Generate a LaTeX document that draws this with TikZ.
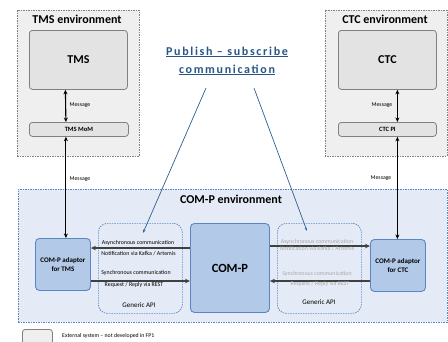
\documentclass[tikz,border=0pt]{standalone}
\usepackage{fontspec}
\setmainfont{Carlito}
\newfontfamily\pubfont[LetterSpace=14]{Carlito-Bold.ttf}
\usetikzlibrary{arrows.meta}
\definecolor{envgray}{HTML}{EFEFEF}
\definecolor{sysgray}{HTML}{E3E3E3}
\definecolor{sysborder}{HTML}{808080}
\definecolor{envblue}{HTML}{E4EBF6}
\definecolor{boxblue}{HTML}{B2C9E8}
\definecolor{borderblue}{HTML}{5A86C5}
\definecolor{pubblue}{HTML}{25558A}
\definecolor{publine}{HTML}{2F5F90}
\definecolor{faded}{HTML}{A8A8A8}
\tikzset{
  box/.style={anchor=north west, inner sep=0pt},
  envgr/.style={box, draw=sysborder, fill=envgray, dash pattern=on 1.5pt off 1pt, line width=0.6pt},
  envbl/.style={box, draw=borderblue, fill=envblue, dash pattern=on 1.5pt off 1pt, line width=0.6pt},
  sysbox/.style={box, draw=sysborder, fill=sysgray, rounded corners=3pt, line width=0.8pt},
  bluebox/.style={box, draw=borderblue, fill=boxblue, rounded corners=4pt, line width=0.9pt},
  apibox/.style={box, draw=borderblue, dash pattern=on 1.5pt off 1pt, rounded corners=9pt, line width=0.7pt},
  title/.style={font=\fontsize{12}{14}\selectfont\bfseries, inner sep=0pt},
  tiny/.style={font=\fontsize{5.8}{7}\selectfont, inner sep=0pt},
  apitxt/.style={font=\fontsize{5.9}{7}\selectfont, inner sep=0pt},
  msgarr/.style={{Stealth[length=4.5pt,width=4pt]}-{Stealth[length=4.5pt,width=4pt]}, line width=1.1pt},
  comarr/.style={-{Stealth[length=5pt,width=4.5pt]}, line width=1.3pt, draw=black!75},
  pubarr/.style={-{Stealth[length=3.5pt,width=2.5pt]}, draw=publine, line width=0.7pt},
}
\begin{document}
\begin{tikzpicture}[x=1pt,y=-1pt]
\clip (0,0) rectangle (448,341);
\fill[white] (0,0) rectangle (448,341);
% environments
\node[envgr, minimum width=122pt, minimum height=146pt] (tmsenv) at (17,10) {};
\node[envgr, minimum width=122pt, minimum height=146pt] (ctcenv) at (324.5,10) {};
\node[envbl, minimum width=429pt, minimum height=133pt] (compenv) at (18,189) {};
\node[title] (tmsenvt) at (77,19) {TMS environment};
\node[title] (ctcenvt) at (385,19) {CTC environment};
\node[title] (compenvt) at (231,199) {COM-P environment};
% TMS side
\node[sysbox, minimum width=98pt, minimum height=59pt, font=\fontsize{12}{14}\selectfont\bfseries] (tms) at (29,30) {TMS};
\node[sysbox, minimum width=99pt, minimum height=14pt, font=\fontsize{6.5}{8}\selectfont\bfseries] (mom) at (29,122) {TMS MoM};
% CTC side
\node[sysbox, minimum width=98pt, minimum height=59pt, font=\fontsize{12}{14}\selectfont\bfseries] (ctc) at (338,30) {CTC};
\node[sysbox, minimum width=98pt, minimum height=14pt, font=\fontsize{6.5}{8}\selectfont\bfseries] (ctcpi) at (338,122) {CTC PI};
% COM-P area
\node[bluebox, minimum width=55pt, minimum height=52pt, align=center, font=\fontsize{7}{8.5}\selectfont\bfseries] (adtms) at (35,238) {COM-P adaptor\\for TMS};
\node[bluebox, minimum width=79pt, minimum height=89pt, font=\fontsize{12.5}{14}\selectfont\bfseries] (comp) at (190,223) {COM-P};
\node[bluebox, minimum width=55pt, minimum height=52pt, align=center, font=\fontsize{7}{8.5}\selectfont\bfseries] (adctc) at (370,239) {COM-P adaptor\\for CTC};
\node[apibox, minimum width=84pt, minimum height=90pt] (apil) at (98,223) {};
\node[apibox, minimum width=84pt, minimum height=90pt] (apir) at (277,223) {};
\node[font=\fontsize{7}{8}\selectfont, inner sep=0pt] (apilt) at (139,305) {Generic API};
\node[font=\fontsize{7}{8}\selectfont, inner sep=0pt] (apirt) at (319,302) {Generic API};
% message arrows
\draw[msgarr] ([xshift=-13pt]tms.south) -- ([xshift=-13pt]mom.north);
\draw[msgarr] ([xshift=-13pt]mom.south) -- ([xshift=-13pt]mom.south |- adtms.north);
\draw[msgarr] ([xshift=10pt]ctc.south) -- ([xshift=10pt]ctcpi.north);
\draw[msgarr] ([xshift=10pt]ctcpi.south) -- ([xshift=10pt]ctcpi.south |- adctc.north);
\node[tiny] (m1) at (80,105) {Message};
\node[tiny] (m2) at (80,179) {Message};
\node[tiny] (m3) at (382,105) {Message};
\node[tiny] (m4) at (381,178) {Message};
% communication arrows left
\draw[comarr] (comp.west |- 0,248) -- (adtms.east |- 0,248);
\draw[comarr] (adtms.east |- 0,281) -- (comp.west |- 0,281);
\node[apitxt] (l1) at (138,243) {Asynchronous communication};
\node[apitxt] (l2) at (138.5,254) {Notification via Kafka / Artemis};
\node[apitxt] (l3) at (136,273) {Synchronous communication};
\node[apitxt] (l4) at (134,285) {Request / Reply via REST};
% communication arrows right
\draw[comarr] (comp.east |- 0,246) -- (adctc.west |- 0,246);
\draw[comarr] (adctc.west |- 0,281) -- (comp.east |- 0,281);
\node[apitxt, text=faded] (r1) at (317,242) {Asynchronous communication};
\node[apitxt, text=faded] (r2) at (317,249) {Notification via Kafka / Artemis};
\node[apitxt, text=faded] (r3) at (317,274) {Synchronous communication};
\node[apitxt, text=faded] (r4) at (320,284) {Request / Reply via REST};
% publish subscribe
\node[font=\pubfont\fontsize{12}{18}\selectfont, text=pubblue, align=center, inner sep=0pt] (pub) at (227,61)
  {\underline{Publish – subscribe}\\\underline{communication}};
\coordinate (p1) at (206,88);
\coordinate (a1) at (143,233);
\coordinate (p2) at (254,88);
\coordinate (a2) at (307,231);
\draw[pubarr] (p1) -- (a1);
\draw[pubarr] (p2) -- (a2);
% legend
\node[sysbox, fill=envgray, minimum width=30pt, minimum height=16pt] (leg) at (22,329) {};
\node[tiny, anchor=west] (legt) at (62,336) {External system – not developed in FP1};
\end{tikzpicture}
\end{document}
